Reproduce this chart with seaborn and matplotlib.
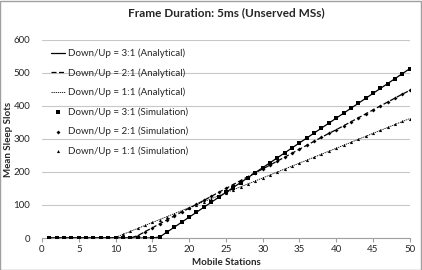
import matplotlib
matplotlib.use("Agg")
import matplotlib.pyplot as plt
import seaborn as sns
import pandas as pd
from matplotlib.patches import Rectangle

stations = list(range(1, 51))
ratio_3_1 = [0]*15 + [3, 18, 33, 48, 63, 78, 93, 108, 123, 138, 153, 168, 183, 198, 213,
                      228, 243, 258, 273, 288, 303, 318, 333, 348, 363, 378, 393, 408, 423,
                      438, 453, 468, 483, 498, 513]
ratio_2_1 = [0]*12 + [7, 19, 31, 43, 55, 67, 79, 90, 102, 114, 126, 138, 150, 162, 174, 186,
                      198, 209, 221, 233, 245, 257, 269, 281, 293, 305, 317, 328, 340, 352,
                      364, 376, 388, 400, 412, 424, 436, 447]
ratio_1_1 = [0]*9 + [2, 11, 20, 29, 38, 47, 56, 65, 74, 83, 92, 101, 110, 119, 128, 137, 146,
                     155, 164, 173, 182, 191, 200, 209, 218, 227, 236, 245, 254, 263, 272,
                     281, 290, 299, 308, 317, 326, 335, 344, 353, 362]
labels = ["3:1", "2:1", "1:1"]

df = pd.DataFrame({"x": stations, "3:1": ratio_3_1, "2:1": ratio_2_1, "1:1": ratio_1_1})

sns.set_style("white")
plt.rcParams['font.family'] = ['Lato', 'DejaVu Sans']

fig = plt.figure(figsize=(4.22, 2.70), dpi=100)
ax = fig.add_axes([0.0995, 0.1185, 0.8715, 0.7335])

line_styles = {"3:1": "-", "2:1": (0, (4, 2)), "1:1": (0, (1.5, 1))}
line_widths = {"3:1": 0.9, "2:1": 0.9, "1:1": 0.6}
markers = {"3:1": "s", "2:1": "D", "1:1": "^"}
msizes = {"3:1": 6, "2:1": 4, "1:1": 5}

for lab in labels:
    sns.lineplot(data=df, x="x", y=lab, ax=ax, color="black", lw=line_widths[lab],
                 linestyle=line_styles[lab], label=f"Down/Up = {lab} (Analytical)")
for lab in labels:
    sns.scatterplot(data=df, x="x", y=lab, ax=ax, color="black", marker=markers[lab],
                    s=msizes[lab], linewidth=0, label=f"Down/Up = {lab} (Simulation)", zorder=3)

ax.set_xlim(0, 50)
ax.set_ylim(0, 600)
ax.set_xticks(range(0, 51, 5))
ax.set_yticks(range(0, 601, 100))
ax.yaxis.grid(True, color="#c8c8c8", lw=0.8)
ax.xaxis.grid(False)
for s in ["top", "right", "left"]:
    ax.spines[s].set_visible(False)
ax.spines["bottom"].set_color("#a0a0a0")
ax.spines["bottom"].set_linewidth(0.8)
ax.tick_params(axis="x", which="major", direction="out", length=3, color="#a0a0a0",
               labelsize=7, pad=2, bottom=True)
ax.tick_params(axis="y", labelsize=7, pad=5, left=False)
ax.set_xlabel("Mobile Stations", fontsize=7, fontweight="bold", labelpad=3)
ax.set_ylabel("Mean Sleep Slots", fontsize=7, fontweight="bold")
ax.yaxis.set_label_coords(-0.08, 0.5)
ax.set_title("Frame Duration: 5ms (Unserved MSs)", fontsize=8.5, fontweight="bold", pad=17)

leg = ax.legend(loc="upper left", bbox_to_anchor=(0.0, 1.0), frameon=False, fontsize=7,
                handlelength=1.5, labelspacing=1.02, handletextpad=0.3, markerscale=1.0)

fig.patches.append(Rectangle((0.001, 0.001), 0.997, 0.996, transform=fig.transFigure,
                             fill=False, edgecolor="#a0a0a0", lw=1))

fig.savefig("out.png", dpi=100)
